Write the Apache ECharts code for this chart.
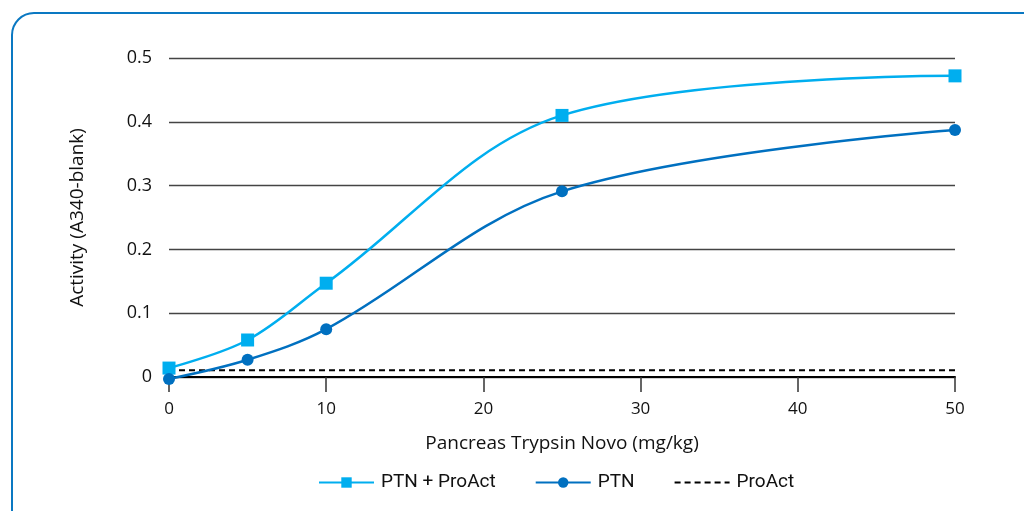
<!DOCTYPE html>
<html><head><meta charset="utf-8">
<script src="https://cdn.jsdelivr.net/npm/echarts@6/dist/echarts.min.js"></script>
<style>html,body{margin:0;padding:0;background:#fff}#c{width:1024px;height:511px}</style>
</head><body><div id="c"></div>
<script>
const doses = [0, 5, 10, 25, 50];
const ptnProAct = [0.014, 0.058, 0.147, 0.41, 0.472];
const ptn = [-0.003, 0.027, 0.075, 0.291, 0.387];
const proAct = [0.0105, 0.0105, 0.0105, 0.0105, 0.0105];
const seriesNames = ['PTN + ProAct', 'PTN', 'ProAct'];
const zip = (xs, ys) => xs.map((x, i) => [x, ys[i]]);
const font = 'Open Sans';
const chart = echarts.init(document.getElementById('c'));
chart.setOption({
  animation: false,
  graphic: [{type: 'rect', shape: {x: 12, y: 13, width: 1040, height: 520, r: 22}, style: {fill: 'none', stroke: '#0a78c2', lineWidth: 2}, z: -1}],
  grid: {left: 169, right: 69, top: 58, bottom: 134},
  legend: {
    data: seriesNames, bottom: 14, left: 313, itemWidth: 55, itemHeight: 13, itemGap: 39,
    textStyle: {fontFamily: 'Roboto', fontSize: 19, color: '#111', padding: [0, 0, 0, 2]}
  },
  xAxis: {
    type: 'value', min: 0, max: 50, interval: 10,
    name: 'Pancreas Trypsin Novo (mg/kg)', nameLocation: 'middle', nameGap: 57,
    nameTextStyle: {fontFamily: font, fontSize: 19, color: '#111'},
    axisLine: {lineStyle: {color: '#000', width: 2}},
    axisTick: {show: true, length: 15, inside: false, lineStyle: {color: '#333', width: 1.5}},
    axisLabel: {fontFamily: font, fontSize: 17, color: '#111', margin: 24},
    splitLine: {show: false}
  },
  yAxis: {
    type: 'value', min: 0, max: 0.5, interval: 0.1,
    name: 'Activity (A340-blank)', nameLocation: 'middle', nameGap: 82,
    nameTextStyle: {fontFamily: font, fontSize: 19, color: '#111'},
    axisLine: {show: false}, axisTick: {show: false},
    axisLabel: {fontFamily: font, fontSize: 18, color: '#111', margin: 17},
    splitLine: {lineStyle: {color: '#444', width: 1.3}}
  },
  series: [
    {name: seriesNames[0], type: 'line', data: zip(doses, ptnProAct), smooth: 0.35, clip: false,
     symbol: 'rect', symbolSize: 13, color: '#00aeef', lineStyle: {width: 2.5}, z: 3},
    {name: seriesNames[1], type: 'line', data: zip(doses, ptn), smooth: 0.35, clip: false,
     symbol: 'circle', symbolSize: 12, color: '#0070c0', lineStyle: {width: 2.5}, z: 3},
    {name: seriesNames[2], type: 'line', data: zip(doses, proAct), clip: false,
     symbol: 'circle', showSymbol: false, itemStyle: {opacity: 0}, color: '#000',
     lineStyle: {width: 2, type: [6, 4], color: '#000'}, z: 2}
  ]
});
</script></body></html>
